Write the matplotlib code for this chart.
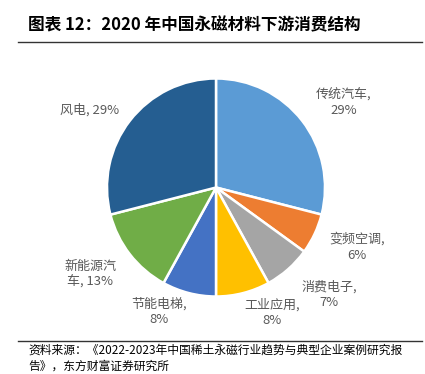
import matplotlib
matplotlib.use("Agg")
import matplotlib.pyplot as plt
from matplotlib.lines import Line2D

plt.rcParams['font.family'] = ['Noto Sans CJK SC', 'DejaVu Sans']

categories = ["传统汽车", "变频空调", "消费电子", "工业应用", "节能电梯", "新能源汽车", "风电"]
values = [29, 6, 7, 8, 8, 13, 29]
colors = ["#5B9BD5", "#ED7D31", "#A5A5A5", "#FFC000", "#4472C4", "#70AD47", "#255E91"]
label_texts = ["传统汽车,\n29%", "变频空调,\n6%", "消费电子,\n7%", "工业应用,\n8%",
               "节能电梯,\n8%", "新能源汽\n车, 13%", "风电, 29%"]
title = "图表 12：2020 年中国永磁材料下游消费结构"
source = "资料来源：《2022-2023年中国稀土永磁行业趋势与典型企业案例研究报\n告》，东方财富证券研究所"

W, H = 425, 374
fig = plt.figure(figsize=(W / 100, H / 100), dpi=100)

def fx(x):
    return x / W

def fy(y):
    return 1 - y / H

cx, cy, r = 216, 187.5, 109
ax = fig.add_axes([fx(cx - r), fy(cy + r), 2 * r / W, 2 * r / H])
ax.pie(values, colors=colors, startangle=90, counterclock=False,
       wedgeprops=dict(edgecolor="white", linewidth=1.8), radius=1.0)
ax.set_aspect("equal")
ax.set_xlim(-1.0, 1.0)
ax.set_ylim(-1.0, 1.0)
ax.axis("off")

# label positions (pixel centers)
label_pos = [(344, 103), (357, 247), (329, 295), (272, 313), (159, 312), (90, 274), (90, 110)]
for txt, (x, y) in zip(label_texts, label_pos):
    fig.text(fx(x), fy(y), txt, ha="center", va="center", fontsize=9.4,
             color="#595959", linespacing=1.25)

# title
fig.text(fx(28), fy(25), title, ha="left", va="center", fontsize=12,
         fontweight="bold", color="#000000")
fig.add_artist(Line2D([fx(18), fx(422)], [fy(42), fy(42)], color="#333333", lw=1.0))

# source
fig.add_artist(Line2D([fx(18), fx(422)], [fy(341), fy(341)], color="#333333", lw=1.0))
fig.text(fx(28), fy(358), source, ha="left", va="center", fontsize=8.5,
         color="#000000", linespacing=1.35)

fig.savefig("out.png", dpi=100, facecolor="white")
